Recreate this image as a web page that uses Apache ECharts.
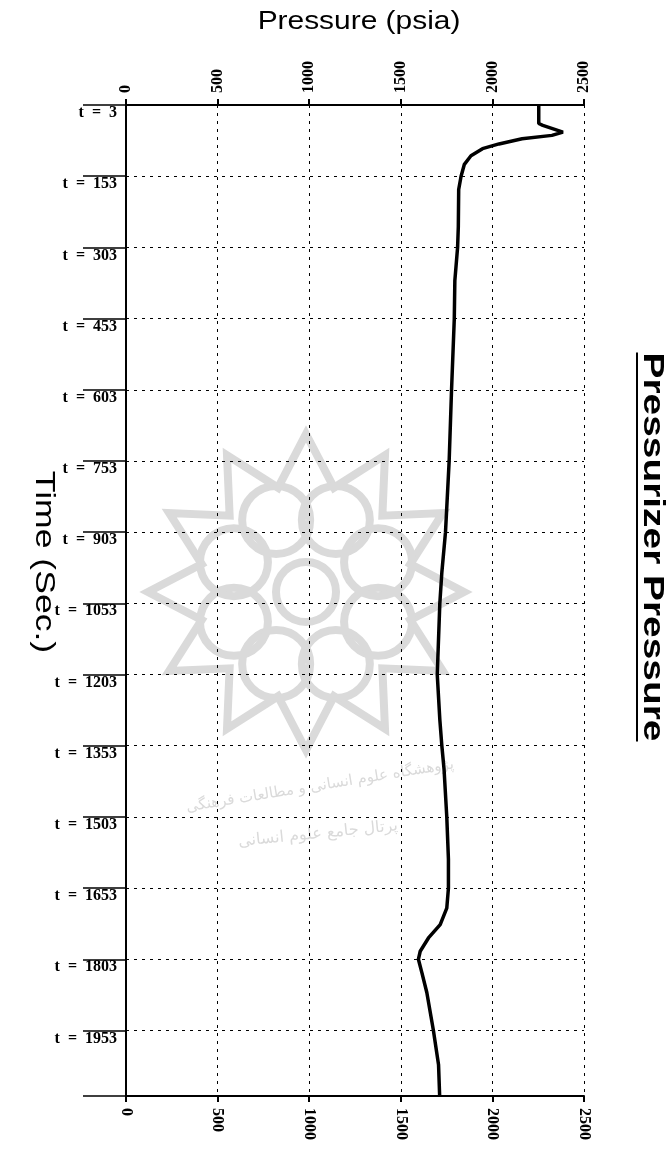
<!DOCTYPE html>
<html lang="en">
<head>
  <meta charset="UTF-8" />
  <title>Pressurizer Pressure</title>
  <script src="https://cdn.jsdelivr.net/npm/echarts@6.0.0/dist/echarts.min.js"></script>
  <style>
    html, body { margin: 0; padding: 0; background: #fff; }
    #chart { width: 671px; height: 1149px; }
  </style>
</head>
<body>
  <div id="chart"></div>
  <script>
    // time axis: labels start at t = 3 and step by 150 s
    const timeStart = 3;
    const timeStep = 150;
    const timeSpan = 2088;
    // pressure axis ticks
    const pressureTicks = [0, 500, 1000, 1500, 2000, 2500];

    // curve
    const timeSec = [3, 42, 46, 60, 63, 67, 74, 85, 95, 110,
      128, 153, 181, 259, 303, 373, 453, 603, 753, 903,
      988, 1053, 1203, 1298, 1353, 1402, 1503, 1592, 1653, 1695,
      1730, 1758, 1786, 1803, 1831, 1873, 1953, 2025, 2090];
    const pressurePsia = [2253, 2253, 2275, 2385, 2380, 2325, 2162, 2036, 1946, 1883,
      1847, 1829, 1816, 1814, 1810, 1795, 1792, 1777, 1764, 1744,
      1724, 1713, 1699, 1713, 1724, 1736, 1751, 1760, 1760, 1751,
      1715, 1651, 1606, 1596, 1615, 1642, 1678, 1706, 1712];

    const serif = 'Liberation Serif';
    const sans = 'Liberation Sans';
    const gridDash = { color: '#000', width: 1, type: [3, 5] };

    function textWidth(txt, font) {
      const ctx = document.createElement('canvas').getContext('2d');
      ctx.font = font;
      return ctx.measureText(txt).width;
    }

    const titleText = 'Pressurizer Pressure';
    const titleFont = 'bold 29px ' + sans;
    const titleStretch = 1.34;
    const titleW = textWidth(titleText, titleFont) * titleStretch;

    // faint watermark (rosette + text) behind the plot
    const wmColor = '#dadada';
    const cx = 306, cy = 592;
    const starPts = [];
    for (let i = 0; i < 24; i++) {
      const a = i * Math.PI / 12 - Math.PI / 2;
      const r = i % 2 === 0 ? 158 : 108;
      starPts.push([cx + r * Math.cos(a), cy + r * Math.sin(a)]);
    }
    const wmRing = [];
    for (let i = 0; i < 8; i++) {
      const a = i * Math.PI / 4 + Math.PI / 8;
      wmRing.push({
        type: 'circle', z: -10, silent: true,
        shape: { cx: cx + 78 * Math.cos(a), cy: cy + 78 * Math.sin(a), r: 34 },
        style: { fill: 'none', stroke: wmColor, lineWidth: 8 }
      });
    }

    const chart = echarts.init(document.getElementById('chart'), null, { renderer: 'canvas' });

    const pressureAxis = (pos, withGrid) => ({
      type: 'value',
      position: pos,
      min: pressureTicks[0],
      max: pressureTicks[pressureTicks.length - 1],
      interval: pressureTicks[1] - pressureTicks[0],
      axisLine: { show: true, onZero: false, lineStyle: { color: '#000', width: 2 } },
      axisTick: { show: true, length: 6, lineStyle: { color: '#000', width: 2 } },
      axisLabel: {
        rotate: -90, margin: 12, color: '#000',
        fontFamily: serif, fontWeight: 'bold', fontSize: 16,
        formatter: v => String(v)
      },
      splitLine: { show: withGrid, lineStyle: gridDash }
    });

    chart.setOption({
      animation: false,
      backgroundColor: '#fff',
      grid: { left: 126, right: 87, top: 105, bottom: 53 },
      xAxis: [pressureAxis('top', true), pressureAxis('bottom', false)],
      yAxis: {
        type: 'value',
        inverse: true,
        min: 0,
        max: timeSpan,
        interval: timeStep,
        axisLine: { show: true, onZero: false, lineStyle: { color: '#000', width: 2 } },
        axisTick: { show: true, length: 43, lineStyle: { color: '#000', width: 1.5 } },
        axisLabel: {
          margin: 9, verticalAlign: 'top', color: '#000',
          fontFamily: serif, fontWeight: 'bold', fontSize: 16,
          formatter: v => (v % timeStep === 0 ? 't  =  ' + (v + timeStart) : '')
        },
        splitLine: { show: true, lineStyle: gridDash }
      },
      series: [{
        type: 'line',
        xAxisIndex: 0,
        data: timeSec.map((t, i) => [pressurePsia[i], t - timeStart]),
        showSymbol: false,
        smooth: false,
        lineStyle: { color: '#000', width: 3.5 },
        z: 5
      }],
      graphic: [
        {
          type: 'polygon', z: -10, silent: true,
          shape: { points: starPts },
          style: { fill: 'none', stroke: wmColor, lineWidth: 8 }
        },
        ...wmRing,
        {
          type: 'circle', z: -10, silent: true,
          shape: { cx: cx, cy: cy, r: 30 },
          style: { fill: 'none', stroke: wmColor, lineWidth: 8 }
        },
        {
          type: 'text', z: -10, silent: true, x: 320, y: 786, rotation: 0.16,
          style: {
            text: 'پژوهشگاه علوم انسانی و مطالعات فرهنگی', fill: wmColor,
            font: '15px DejaVu Sans', align: 'center', verticalAlign: 'middle'
          }
        },
        {
          type: 'text', z: -10, silent: true, x: 318, y: 834, rotation: 0.1,
          style: {
            text: 'پرتال جامع علوم انسانی', fill: wmColor,
            font: '16px DejaVu Sans', align: 'center', verticalAlign: 'middle'
          }
        },
        {
          type: 'text', x: 359, y: 22, scaleX: 1.15,
          style: {
            text: 'Pressure (psia)', fill: '#000',
            font: '26px ' + sans, align: 'center', verticalAlign: 'middle'
          }
        },
        {
          type: 'group', x: 44, y: 562, rotation: -Math.PI / 2,
          children: [{
            type: 'text', x: 0, y: 0, scaleX: 1.27,
            style: {
              text: 'Time (Sec.)', fill: '#000',
              font: '28px ' + sans, align: 'center', verticalAlign: 'middle'
            }
          }]
        },
        {
          type: 'group', x: 652, y: 547, rotation: -Math.PI / 2,
          children: [
            {
              type: 'text', x: 0, y: 0, scaleX: titleStretch,
              style: {
                text: titleText, fill: '#000', font: titleFont,
                align: 'center', verticalAlign: 'middle'
              }
            },
            {
              type: 'rect',
              shape: { x: -titleW / 2, y: 14, width: titleW, height: 2 },
              style: { fill: '#000' }
            }
          ]
        }
      ]
    });
  </script>
</body>
</html>
